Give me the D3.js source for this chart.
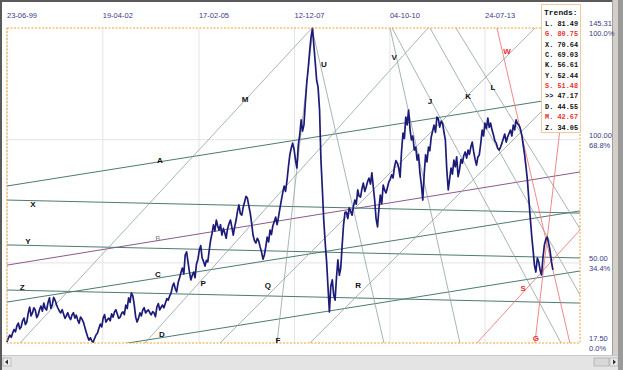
<!DOCTYPE html>
<html><head><meta charset="utf-8">
<script src="https://cdn.jsdelivr.net/npm/d3@7/dist/d3.min.js"></script>
<style>
html,body{margin:0;padding:0;background:#fff;}
svg{display:block;}
</style></head>
<body>
<svg id="chart" width="623" height="370"></svg>
<script>
// ---------- DATA ----------
const priceStart = "1999-06-23";     // first sample, then one sample every half month
const priceValues = [
17.9,19.5,20.7,19.8,21.6,23.0,22.0,24.5,25.6,23.2,24.0,26.5,27.6,25.0,26.0,29.5,32.1,28.5,29.7,31.8,
30.9,27.8,28.9,31.0,32.5,30.4,33.7,31.5,30.9,33.8,35.8,31.5,32.9,36.0,34.9,33.0,31.7,30.5,29.7,31.0,
29.3,27.5,28.5,29.8,28.0,27.0,28.9,29.8,27.6,28.8,26.8,25.5,28.0,27.2,26.0,24.0,22.0,20.0,18.7,19.6,
18.3,17.9,19.5,20.8,21.6,23.5,25.2,24.0,27.6,29.0,26.0,27.0,27.6,26.5,29.3,28.0,30.1,31.0,29.3,27.5,
28.0,29.5,30.1,29.0,32.9,31.5,35.8,34.0,37.8,36.5,32.9,28.0,26.0,27.5,29.7,28.5,30.9,31.8,29.7,30.5,
30.9,29.8,28.9,30.2,29.7,28.2,32.1,33.5,30.9,32.0,32.9,31.8,33.7,35.5,34.9,36.5,37.8,40.5,41.8,39.5,
38.2,42.0,43.9,46.0,47.9,45.5,53.2,54.5,50.4,46.5,43.1,45.0,46.3,44.0,49.5,51.5,55.2,57.0,52.0,50.5,
48.7,51.0,50.4,55.0,59.3,62.0,65.4,63.0,67.4,65.0,63.3,65.5,61.3,64.0,62.1,60.0,63.9,66.0,67.4,64.5,
61.3,64.5,67.4,71.0,73.5,70.0,69.4,72.5,74.7,77.0,76.3,73.0,70.2,66.0,61.3,59.0,58.1,60.0,58.9,56.5,
54.4,51.5,53.2,56.5,60.5,58.5,63.3,61.5,65.0,66.8,68.6,65.5,68.6,72.0,75.5,78.5,81.2,79.0,83.6,89.0,
93.8,96.5,98.6,96.0,91.7,88.5,97.8,102.0,108.0,103.5,106.0,115.0,123.4,129.0,135.6,141.5,145.3,138.0,131.1,124.0,
121.3,112.0,91.7,80.0,67.4,58.0,50.4,40.0,30.1,40.5,43.1,37.0,34.9,44.0,51.2,45.0,47.9,57.0,65.4,70.5,
70.6,68.0,72.3,71.0,69.4,73.0,75.5,73.8,79.6,77.0,76.7,80.0,82.4,79.0,80.8,83.0,84.4,82.0,86.5,81.0,
75.5,68.0,64.6,72.0,77.5,74.0,81.6,79.5,78.4,80.5,82.8,84.0,85.7,84.5,88.9,91.5,90.5,88.5,84.8,95.0,
102.7,100.5,109.2,106.0,112.0,104.0,99.9,101.5,95.8,97.0,91.7,94.0,86.5,82.0,75.5,86.0,93.8,91.0,97.0,95.5,
101.1,103.5,105.9,103.0,109.2,108.5,105.1,107.5,106.7,103.0,99.9,88.0,79.6,84.0,88.5,86.0,91.7,89.0,93.0,85.0,
87.7,92.0,90.5,93.5,95.0,92.5,95.8,94.0,97.0,99.0,95.0,92.0,89.7,93.0,93.8,98.5,103.9,101.5,106.7,104.5,
108.8,105.0,106.7,104.0,101.9,99.5,98.6,96.5,95.8,97.0,98.6,100.5,102.3,99.0,101.1,102.5,103.9,101.5,105.9,104.0,
108.0,106.5,105.9,104.5,101.9,98.0,93.8,89.0,83.6,76.0,68.6,61.0,55.2,49.0,46.3,52.0,50.4,47.0,45.1,52.0,
57.3,59.5,60.5,58.0,55.2,50.5,47.2
];
const xDomainYears = [1999.474, 2016.358];
const yDomain = [17.5, 145.31];
const topTickDates = ["1999-06-23","2002-04-19","2005-02-17","2007-12-12","2010-10-04","2013-07-24"];
const rightTickValues = [145.31, 100.00, 50.00, 17.50];
const rightTickPct = ["100.0%","68.8%","34.4%","0.0%"];
const gridValues = [100, 50];

// trend lines: name, start [year, value], end [year, value], kind, label position [year, value]
const trendNames  = ["A","B","C","D","X","Y","Z","M","P","Q","R","F","U","V","J","K","L","W","G","S"];
const trendStart  = [[1999.474,81.2],[1999.474,49.1],[1999.474,34.1],[2003.04,17.5],[1999.474,75.5],[1999.474,57.3],[1999.474,39.0],
                     [1999.857,17.5],[2003.54,17.5],[2005.75,17.5],[2008.40,17.5],[2007.43,17.5],[2008.46,145.3],[2010.76,145.3],
                     [2010.82,145.3],[2011.94,145.3],[2012.70,145.3],[2013.91,145.3],[2015.03,17.5],[2013.32,17.5]];
const trendEnd    = [[2016.358,118.1],[2016.358,86.9],[2016.358,71.1],[2016.358,46.7],[2016.358,70.2],[2016.358,52.0],[2016.358,33.7],
                     [2008.461,145.3],[2011.88,145.3],[2015.03,145.3],[2016.358,127.05],[2008.49,145.3],[2010.58,17.5],[2012.82,17.5],
                     [2015.80,17.5],[2016.358,37.0],[2016.358,63.8],[2016.06,17.5],[2015.57,80.9],[2016.358,63.35]];
const trendKind   = ["h","b","h","h","h","h","h","d","d","d","d","d","d","d","d","d","d","r","r","r"];
const labelPos    = [[2003.98,91.75],[2003.92,60.1],[2003.92,45.1],[2004.04,20.75],[2000.24,73.5],[2000.09,58.5],[1999.92,40.2],
                     [2006.49,116.1],[2005.25,41.8],[2007.16,41.0],[2009.82,41.0],[2007.46,18.7],[2008.81,130.3],[2010.88,133.5],
                     [2011.94,115.3],[2013.06,117.7],[2013.79,121.0],[2014.21,135.6],[2015.06,19.5],[2014.68,39.8]];

const legendNames  = ["L.","G.","X.","C.","K.","Y.","S.",">>","D.","M.","Z."];
const legendValues = ["81.49","80.75","70.64","69.03","56.61","52.44","51.48","47.17","44.55","42.67","34.05"];
const legendRed    = [false,true,false,false,false,false,true,false,false,true,false];

// ---------- LAYOUT ----------
const W = 623, H = 370;
const plot = {l:7, r:580, t:28, b:343};
const svg = d3.select("#chart");

function yearToDate(y){
  const yr = Math.floor(y);
  const s = new Date(yr,0,1), e = new Date(yr+1,0,1);
  return new Date(s.getTime() + (y-yr)*(e-s));
}
const parse = d3.timeParse("%Y-%m-%d");
const x = d3.scaleTime().domain(xDomainYears.map(yearToDate)).range([plot.l, plot.r]);
const y = d3.scaleLinear().domain(yDomain).range([plot.b, plot.t]);

// window chrome
svg.append("rect").attr("x",0).attr("y",0).attr("width",W).attr("height",H).attr("fill","#ffffff");
svg.append("rect").attr("x",0).attr("y",0).attr("width",W).attr("height",2).attr("fill","#5a5a5a");
svg.append("rect").attr("x",0).attr("y",0).attr("width",2).attr("height",H).attr("fill","#5a5a5a");
svg.append("rect").attr("x",612).attr("y",0).attr("width",11).attr("height",H).attr("fill","#d4d0c8");
svg.append("rect").attr("x",612).attr("y",0).attr("width",1).attr("height",H).attr("fill","#a0a0a0");
svg.append("rect").attr("x",618).attr("y",0).attr("width",5).attr("height",H).attr("fill","#9a9a9a");
svg.append("rect").attr("x",2).attr("y",355).attr("width",616).attr("height",15).attr("fill","#e4e4e4");
svg.append("rect").attr("x",2).attr("y",355).attr("width",616).attr("height",1).attr("fill","#c8c8c8");
svg.append("rect").attr("x",3).attr("y",358).attr("width",8).attr("height",8).attr("fill","#ececec").attr("stroke","#a0a0a0").attr("stroke-width",0.6);
svg.append("path").attr("d","M5,362 L8,359.5 L8,364.5 Z").attr("fill","#303030");
svg.append("rect").attr("x",594).attr("y",358).attr("width",15).attr("height",8).attr("fill","#d8d8d8").attr("stroke","#a0a0a0").attr("stroke-width",0.6);
svg.append("rect").attr("x",610).attr("y",358).attr("width",8).attr("height",8).attr("fill","#ececec").attr("stroke","#a0a0a0").attr("stroke-width",0.6);
svg.append("path").attr("d","M616,362 L613,359.5 L613,364.5 Z").attr("fill","#303030");

// grid
const g = svg.append("g");
g.selectAll("line.vg").data(topTickDates).join("line")
  .attr("x1",d=>x(parse(d))).attr("x2",d=>x(parse(d)))
  .attr("y1",plot.t).attr("y2",plot.b).attr("stroke","#e3e3ea").attr("stroke-width",1);
g.selectAll("line.hg").data(gridValues).join("line")
  .attr("x1",plot.l).attr("x2",plot.r).attr("y1",d=>y(d)).attr("y2",d=>y(d))
  .attr("stroke","#e3e3ea").attr("stroke-width",1);

// clip
svg.append("clipPath").attr("id","clip").append("rect")
  .attr("x",plot.l).attr("y",plot.t).attr("width",plot.r-plot.l).attr("height",plot.b-plot.t);

const kindColor = {h:"#4f7a72", b:"#8c5a8c", d:"#8fa39e", r:"#f07a7a"};
const kindWidth = {h:1, b:1, d:0.8, r:0.9};
const lines = trendNames.map((n,i)=>({name:n, s:trendStart[i], e:trendEnd[i], kind:trendKind[i], lp:labelPos[i]}));
const tl = svg.append("g").attr("clip-path","url(#clip)");
tl.selectAll("line").data(lines).join("line")
  .each(function(d){
    const x1 = x(yearToDate(d.s[0])), y1 = y(d.s[1]);
    const x2 = x(yearToDate(d.e[0])), y2 = y(d.e[1]);
    const dx = x2-x1, dy = y2-y1, L = Math.hypot(dx,dy), k = 2000/L;
    d3.select(this).attr("x1",x1-dx*k).attr("y1",y1-dy*k).attr("x2",x2+dx*k).attr("y2",y2+dy*k);
  })
  .attr("stroke",d=>kindColor[d.kind]).attr("stroke-width",d=>kindWidth[d.kind]);

// price
const priceData = priceValues.map((v,i)=>({d:d3.timeDay.offset(parse(priceStart),Math.round(i*15.22)), v}));
svg.append("path").datum(priceData)
  .attr("fill","none").attr("stroke","#1c1c78").attr("stroke-width",1.7).attr("stroke-linejoin","round")
  .attr("d", d3.line().x(d=>x(d.d)).y(d=>y(d.v)));

// dashed border
svg.append("rect").attr("x",plot.l).attr("y",plot.t).attr("width",plot.r-plot.l).attr("height",plot.b-plot.t)
  .attr("fill","none").attr("stroke","#f0a030").attr("stroke-width",1).attr("stroke-dasharray","2,1.5");

// labels
svg.append("g").selectAll("text").data(lines).join("text")
  .attr("x",d=>x(yearToDate(d.lp[0]))).attr("y",d=>y(d.lp[1]))
  .attr("text-anchor","middle").attr("dominant-baseline","central")
  .attr("font-family","Liberation Sans, Arial, sans-serif")
  .attr("font-size",d=>d.kind==="b"?7:8).attr("font-weight",d=>d.kind==="b"?"normal":"bold")
  .attr("fill",d=>d.kind==="r"?"#e83030":(d.kind==="b"?"#8a708a":"#111"))
  .text(d=>d.name);

// top axis labels
const fmt = d3.timeFormat("%d-%m-%y");
svg.append("g").selectAll("text").data(topTickDates).join("text")
  .attr("x",d=>x(parse(d))).attr("y",18)
  .attr("font-family","Liberation Sans Narrow, Liberation Sans, sans-serif").attr("font-size",7.5)
  .attr("fill","#3a3a88").text(d=>fmt(parse(d)));

// right axis labels
const ra = svg.append("g");
ra.selectAll("text.v").data(rightTickValues).join("text")
  .attr("x",589).attr("y",d=>y(d)-2)
  .attr("font-family","Liberation Sans Narrow, Liberation Sans, sans-serif").attr("font-size",7.5)
  .attr("fill","#3a3a88").text(d=>d.toFixed(2));
ra.selectAll("text.p").data(rightTickPct).join("text")
  .attr("x",589).attr("y",(d,i)=>y(rightTickValues[i])+8)
  .attr("font-family","Liberation Sans Narrow, Liberation Sans, sans-serif").attr("font-size",7.5)
  .attr("fill","#3a3a88").text(d=>d);

// legend
const lg = svg.append("g");
lg.append("rect").attr("x",541.5).attr("y",4.5).attr("width",39).attr("height",128)
  .attr("fill","#fff").attr("stroke","#f3c89a").attr("stroke-width",1);
lg.append("text").attr("x",544).attr("y",14.5).attr("font-family","Liberation Mono, Courier New, monospace")
  .attr("font-size",8).attr("font-weight","bold").attr("fill","#111").text("Trends:");
lg.selectAll("text.e").data(legendNames).join("text")
  .attr("x",545).attr("y",(d,i)=>26 + i*10.35)
  .attr("font-family","Liberation Mono, Courier New, monospace").attr("font-size",6.9).attr("font-weight","bold")
  .attr("fill",(d,i)=>legendRed[i]?"#e83030":"#111")
  .attr("xml:space","preserve")
  .text((d,i)=>d+" "+legendValues[i]);
</script>
</body></html>
